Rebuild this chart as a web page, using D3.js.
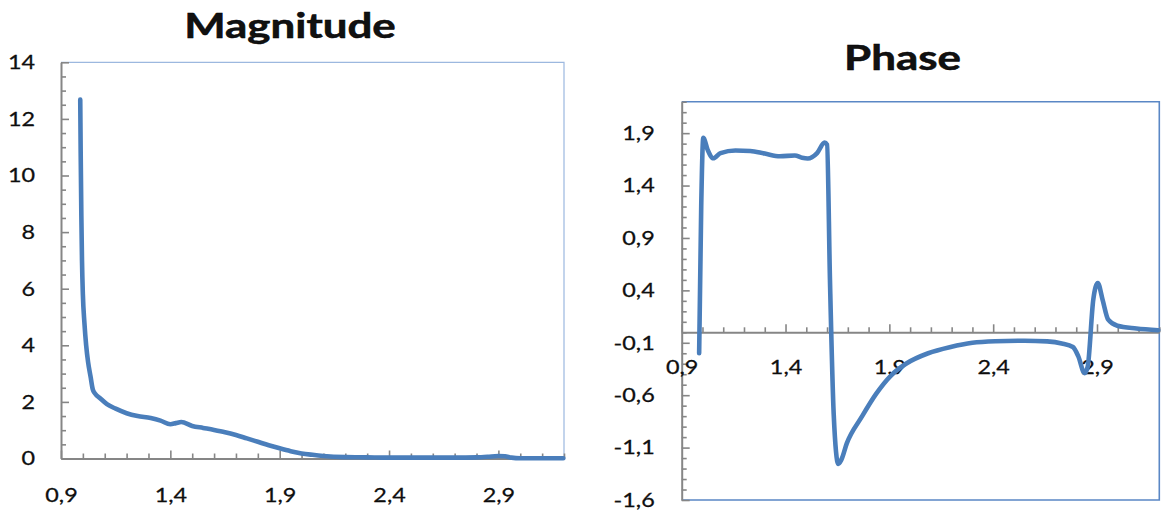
<!DOCTYPE html>
<html>
<head>
<meta charset="utf-8">
<script src="https://cdn.jsdelivr.net/npm/d3@7"></script>
<style>
  html, body { margin: 0; padding: 0; background: #ffffff; }
  svg { display: block; }
  text { font-family: Lato, "Open Sans", sans-serif; fill: #111; }
</style>
</head>
<body>
<svg id="chart" width="1162" height="515"></svg>
<script>
// Frequency samples and magnitude response
const magX = [0.988, 0.990, 0.993, 0.996, 1.000, 1.007, 1.015, 1.024, 1.035, 1.045, 1.055, 1.080, 1.110,
  1.150, 1.200, 1.250, 1.310, 1.355, 1.400, 1.425, 1.450, 1.500, 1.550, 1.600, 1.650, 1.700, 1.750,
  1.800, 1.850, 1.900, 1.950, 2.000, 2.050, 2.100, 2.200, 2.300, 2.400, 2.500, 2.600, 2.700, 2.800,
  2.850, 2.900, 2.930, 2.960, 3.000, 3.100, 3.197];
const magY = [12.68, 10.8, 8.6, 7.0, 5.8, 4.8, 4.0, 3.4, 2.9, 2.45, 2.3, 2.12, 1.92,
  1.76, 1.60, 1.50, 1.43, 1.34, 1.21, 1.25, 1.29, 1.15, 1.08, 1.01, 0.93, 0.83, 0.71,
  0.59, 0.47, 0.36, 0.26, 0.18, 0.13, 0.09, 0.05, 0.04, 0.03, 0.03, 0.03, 0.03, 0.04,
  0.06, 0.09, 0.08, 0.03, 0.01, 0.01, 0.01];

// Frequency samples and phase response
const phaseX = [0.984, 0.994, 1.004, 1.025, 1.052, 1.087, 1.159, 1.230, 1.300, 1.373, 1.445, 1.480,
  1.507, 1.552, 1.588, 1.600, 1.614, 1.632, 1.654, 1.668, 1.695, 1.766, 1.837, 1.909, 1.980,
  2.087, 2.195, 2.300, 2.410, 2.550, 2.660, 2.730, 2.784, 2.810, 2.840, 2.855, 2.882, 2.904,
  2.927, 2.954, 2.998, 3.090, 3.195];
const phaseY = [-0.20, 1.20, 1.855, 1.74, 1.66, 1.71, 1.735, 1.73, 1.705, 1.68, 1.687, 1.665,
  1.658, 1.71, 1.81, 1.79, 0.50, -0.78, -1.255, -1.22, -1.06, -0.81, -0.585, -0.41, -0.30,
  -0.20, -0.14, -0.10, -0.085, -0.08, -0.087, -0.106, -0.14, -0.23, -0.39, -0.33, 0.31, 0.47,
  0.31, 0.12, 0.063, 0.037, 0.02];

// Axis ticks
const xMajor = [0.9, 1.4, 1.9, 2.4, 2.9];
const xMinor = [1.0, 1.1, 1.2, 1.3, 1.5, 1.6, 1.7, 1.8, 2.0, 2.1, 2.2, 2.3, 2.5, 2.6, 2.7, 2.8, 3.0, 3.1, 3.2];
const magYMajor = [0, 2, 4, 6, 8, 10, 12, 14];
const magYMinor = [0.5, 1, 1.5, 2.5, 3, 3.5, 4.5, 5, 5.5, 6.5, 7, 7.5, 8.5, 9, 9.5, 10.5, 11, 11.5, 12.5, 13, 13.5];
const phaseYMajor = [-1.6, -1.1, -0.6, -0.1, 0.4, 0.9, 1.4, 1.9];
const phaseYMinor = [-1.5, -1.4, -1.3, -1.2, -1.0, -0.9, -0.8, -0.7, -0.5, -0.4, -0.3, -0.2,
  0.0, 0.1, 0.2, 0.3, 0.5, 0.6, 0.7, 0.8, 1.0, 1.1, 1.2, 1.3, 1.5, 1.6, 1.7, 1.8, 2.0, 2.1, 2.2];

const titles = ["Magnitude", "Phase"];

const locale = d3.formatLocale({ decimal: ",", thousands: ".", grouping: [3], currency: ["", ""], minus: "-" });
const fmt1 = locale.format(".1f");
const fmt0 = locale.format("d");

const LINE_COLOR = "#4a7ebb";
const AXIS_COLOR = "#868686";
const STRETCH = 1.17;       // wide glyph look for labels
const TITLE_STRETCH = 1.31;

const svg = d3.select("#chart");

function styleAxis(g, isY, pad) {
  g.select(".domain").attr("stroke", AXIS_COLOR).attr("stroke-width", 2);
  g.selectAll(".tick line").attr("stroke", AXIS_COLOR).attr("stroke-width", 1.6);
  g.selectAll(".tick text")
    .attr("font-size", 20)
    .attr("fill", "#000")
    .attr("stroke", "#000")
    .attr("stroke-width", 0.25)
    .attr("font-family", "Lato, 'Open Sans', sans-serif")
    .each(function () {
      const t = d3.select(this);
      if (isY) {
        t.attr("x", -pad / STRETCH).attr("transform", `scale(${STRETCH},1)`);
      } else {
        t.attr("transform", `scale(${STRETCH},1)`);
      }
    });
}

function panel(opts) {
  const { left, right, top, bottom, xDomain, yDomain, yMajor, yMinor, yFmt,
          xs, ys, border, borderWidth, xAxisAt, xLabelPad, yLabelPad, title, titleX, titleY } = opts;

  const x = d3.scaleLinear().domain(xDomain).range([left, right]);
  const y = d3.scaleLinear().domain(yDomain).range([bottom, top]);
  const g = svg.append("g");

  // top and right frame
  g.append("path")
    .attr("d", `M${left},${top}H${right}V${bottom}` + (opts.bottomBorder ? `H${left}` : ""))
    .attr("fill", "none")
    .attr("stroke", border)
    .attr("stroke-width", borderWidth);

  const yAxisPos = xAxisAt === undefined ? bottom : y(xAxisAt);

  // minor ticks
  g.append("g").attr("transform", `translate(0,${yAxisPos})`)
    .call(d3.axisBottom(x).tickValues(xMinor).tickSizeInner(-5).tickSizeOuter(0).tickFormat(""))
    .call(a => { a.select(".domain").remove(); a.selectAll(".tick line").attr("stroke", AXIS_COLOR).attr("stroke-width", 1.6); });
  g.append("g").attr("transform", `translate(${left},0)`)
    .call(d3.axisLeft(y).tickValues(yMinor).tickSizeInner(-5).tickSizeOuter(0).tickFormat(""))
    .call(a => { a.select(".domain").remove(); a.selectAll(".tick line").attr("stroke", AXIS_COLOR).attr("stroke-width", 1.6); });

  // major axes
  g.append("g").attr("transform", `translate(${left},0)`)
    .call(d3.axisLeft(y).tickValues(yMajor).tickSizeInner(-8).tickSizeOuter(0).tickPadding(yLabelPad).tickFormat(yFmt))
    .call(a => styleAxis(a, true, yLabelPad));
  g.append("g").attr("transform", `translate(0,${yAxisPos})`)
    .call(d3.axisBottom(x).tickValues(xMajor).tickSizeInner(-8).tickSizeOuter(0).tickPadding(xLabelPad).tickFormat(fmt1))
    .call(a => styleAxis(a, false, xLabelPad));

  // series
  const data = xs.map((v, i) => [v, ys[i]]);
  g.append("path")
    .datum(data)
    .attr("fill", "none")
    .attr("stroke", LINE_COLOR)
    .attr("stroke-width", 4.6)
    .attr("stroke-linejoin", "round")
    .attr("stroke-linecap", "round")
    .attr("d", d3.line().x(d => x(d[0])).y(d => y(d[1])).curve(d3.curveMonotoneX));

  // title
  g.append("text")
    .attr("transform", `translate(${titleX},${titleY}) scale(${TITLE_STRETCH},1)`)
    .attr("text-anchor", "middle")
    .attr("font-size", 33.5)
    .attr("font-weight", 700)
    .attr("fill", "#000")
    .attr("stroke", "#000")
    .attr("stroke-width", 0.5)
    .text(title);
}

panel({
  left: 61, right: 564, top: 62.3, bottom: 458.5,
  xDomain: [0.9, 3.2], yDomain: [0, 14],
  yMajor: magYMajor, yMinor: magYMinor, yFmt: fmt0,
  xs: magX, ys: magY,
  border: "#9cb8df", borderWidth: 1.2,
  xLabelPad: 29, yLabelPad: 26,
  title: titles[0], titleX: 290, titleY: 37.5
});

panel({
  left: 681.7, right: 1159.3, top: 101.7, bottom: 500,
  xDomain: [0.9, 3.2], yDomain: [-1.6, 2.2],
  yMajor: phaseYMajor, yMinor: phaseYMinor, yFmt: fmt1,
  xs: phaseX, ys: phaseY,
  border: "#5a87c5", borderWidth: 1.6, bottomBorder: true,
  xAxisAt: 0,
  xLabelPad: 28, yLabelPad: 27,
  title: titles[1], titleX: 902.5, titleY: 69.5
});
</script>
</body>
</html>
